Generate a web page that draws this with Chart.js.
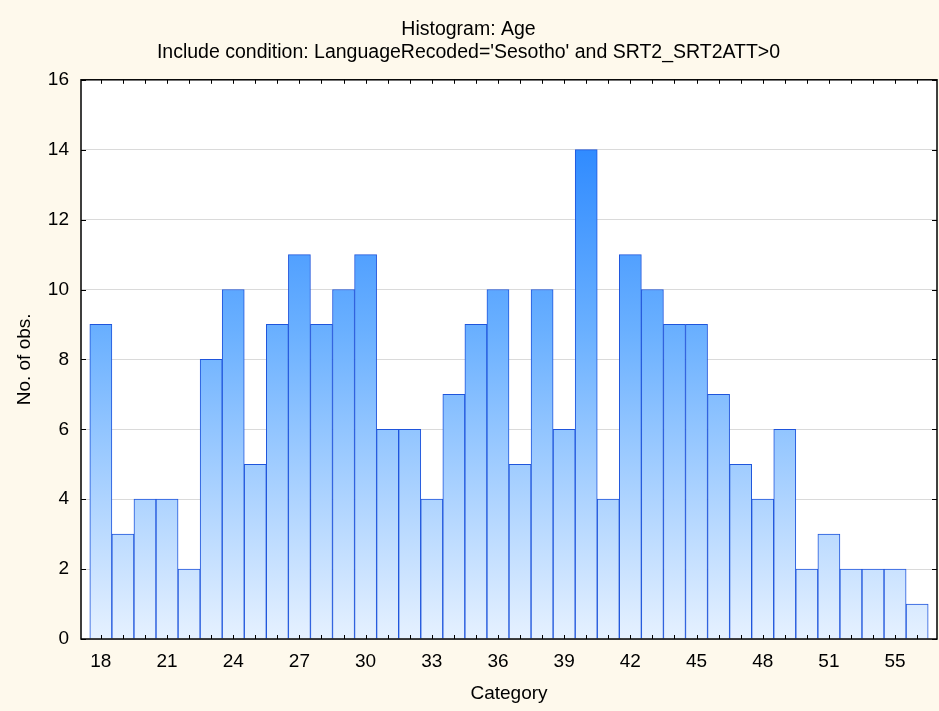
<!DOCTYPE html>
<html><head><meta charset="utf-8">
<script src="https://cdn.jsdelivr.net/npm/chart.js@4"></script>
<style>html,body{margin:0;padding:0;background:#FEF9EC;overflow:hidden;}</style>
</head><body>
<canvas id="c" width="939" height="711" style="display:block;width:939px;height:711px"></canvas>
<script>
const categories = [18,19,20,21,22,23,24,25,26,27,28,29,30,31,32,33,34,35,36,37,38,39,40,41,42,43,44,45,46,47,48,49,50,51,52,53,54,55];
const counts = [9,3,4,4,2,8,10,5,9,11,9,10,11,6,6,4,7,9,10,5,10,6,14,4,11,10,9,9,7,5,4,6,2,3,2,2,2,1];
const xTickValues = [18,21,24,27,30,33,36,39,42,45,48,51,54];
const xTickLabels = ['18','21','24','27','30','33','36','39','42','45','48','51','55'];
const yTicks = [0,2,4,6,8,10,12,14,16];

const FONT = "'Liberation Sans', Arial, sans-serif";

const framePlugin = {
  id: 'frame',
  beforeDraw(chart) {
    const {ctx, chartArea: a} = chart;
    ctx.save();
    ctx.fillStyle = '#FEF9EC';
    ctx.fillRect(0, 0, chart.width, chart.height);
    ctx.fillStyle = '#FFFFFF';
    ctx.fillRect(a.left, a.top, a.right - a.left, a.bottom - a.top);
    ctx.restore();
  },
  afterDatasetsDraw(chart) {
    const {ctx, chartArea: a, scales} = chart;
    ctx.save();
    ctx.strokeStyle = '#000';
    ctx.lineWidth = 1;
    ctx.beginPath();
    categories.forEach(c => {
      const x = Math.round(scales.x.getPixelForValue(c)) + 0.5;
      ctx.moveTo(x, a.top); ctx.lineTo(x, a.top + 4);
      ctx.moveTo(x, a.bottom); ctx.lineTo(x, a.bottom - 4);
    });
    yTicks.forEach(v => {
      const y = Math.round(scales.y.getPixelForValue(v)) + 0.5;
      ctx.moveTo(a.left, y); ctx.lineTo(a.left + 5, y);
      ctx.moveTo(a.right, y); ctx.lineTo(a.right - 5, y);
    });
    ctx.stroke();
    ctx.lineWidth = 1.5;
    ctx.strokeRect(a.left, a.top, a.right - a.left, a.bottom - a.top);
    ctx.restore();
  }
};

function barGradient(context) {
  const chart = context.chart;
  const a = chart.chartArea;
  if (!a) return '#88bbff';
  const g = chart.ctx.createLinearGradient(0, a.top, 0, a.bottom);
  g.addColorStop(0, '#1A7DFF');
  g.addColorStop(0.45, '#6AB0FF');
  g.addColorStop(1, '#E6F1FF');
  return g;
}

new Chart(document.getElementById('c'), {
  type: 'bar',
  data: {
    datasets: [{
      data: categories.map((c, i) => ({x: c, y: counts[i]})),
      backgroundColor: barGradient,
      borderColor: '#1F55DC',
      borderWidth: 1,
      barPercentage: 1,
      categoryPercentage: 1
    }]
  },
  plugins: [framePlugin],
  options: {
    responsive: false,
    animation: false,
    layout: {padding: {left: 0, right: 2, top: 0, bottom: 0}},
    plugins: {
      legend: {display: false},
      tooltip: {enabled: false},
      title: {
        display: true, text: 'Histogram: Age', color: '#000',
        font: {family: FONT, size: 19.5, weight: 'normal', lineHeight: 1.2},
        padding: {top: 18, bottom: 0}
      },
      subtitle: {
        display: true, text: "Include condition: LanguageRecoded='Sesotho' and SRT2_SRT2ATT>0", color: '#000',
        font: {family: FONT, size: 19.5, weight: 'normal', lineHeight: 1.2},
        padding: {top: 0, bottom: 15}
      }
    },
    scales: {
      x: {
        type: 'linear', min: 17.1, max: 55.9, offset: false,
        grid: {display: false, drawTicks: false, offset: false},
        border: {display: false},
        afterBuildTicks(scale) { scale.ticks = xTickValues.map(v => ({value: v})); },
        afterFit(scale) { scale.height = 72; },
        ticks: {
          color: '#000', font: {family: FONT, size: 19}, padding: 11,
          maxRotation: 0, autoSkip: false,
          callback(value) { const i = xTickValues.indexOf(value); return i >= 0 ? xTickLabels[i] : ''; }
        },
        title: {display: true, text: 'Category', color: '#000', font: {family: FONT, size: 19}, padding: {top: 0, bottom: 6}}
      },
      y: {
        min: 0, max: 16,
        afterBuildTicks(scale) { scale.ticks = yTicks.map(v => ({value: v})); },
        afterFit(scale) { scale.width = 81; },
        grid: {color: '#DADADA', lineWidth: 1, drawTicks: false},
        border: {display: false},
        ticks: {color: '#000', font: {family: FONT, size: 19}, padding: 12},
        title: {display: true, text: 'No. of obs.', color: '#000', font: {family: FONT, size: 19}, padding: {top: 13, bottom: 0}}
      }
    }
  }
});
</script>
</body></html>
